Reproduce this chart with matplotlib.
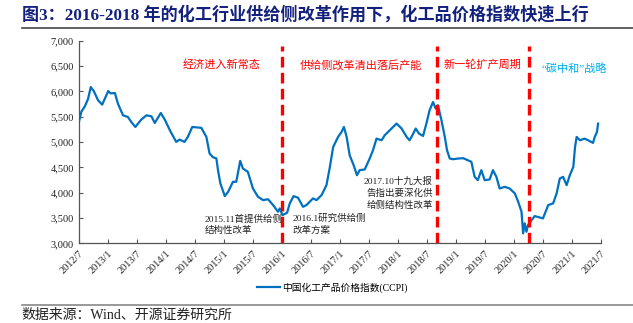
import pandas as pd
import matplotlib
matplotlib.use('Agg')
import matplotlib.pyplot as plt
from matplotlib.ticker import FuncFormatter

plt.rcParams['font.family'] = ['Liberation Serif', 'Noto Sans CJK SC']
plt.rcParams['axes.unicode_minus'] = False

# CCPI index
dates = [
    '2012-07-01', '2012-07-18', '2012-08-08', '2012-08-29', '2012-09-15', '2012-10-04',
    '2012-10-31', '2012-11-26', '2013-01-03', '2013-01-18', '2013-02-14', '2013-03-05',
    '2013-04-06', '2013-05-07', '2013-05-28', '2013-06-23', '2013-07-30', '2013-09-01',
    '2013-10-02', '2013-10-23', '2013-11-30', '2013-12-25', '2014-01-26', '2014-03-07',
    '2014-03-28', '2014-04-28', '2014-05-19', '2014-06-16', '2014-07-11', '2014-08-12',
    '2014-09-13', '2014-10-03', '2014-10-24', '2014-11-15', '2014-11-25', '2014-12-10',
    '2015-01-07', '2015-01-28', '2015-02-27', '2015-03-20', '2015-04-14', '2015-05-01',
    '2015-06-01', '2015-07-03', '2015-08-04', '2015-09-05', '2015-10-06', '2015-11-07',
    '2015-12-08', '2015-12-19', '2016-01-05', '2016-02-03', '2016-02-20', '2016-03-15',
    '2016-04-12', '2016-05-13', '2016-06-04', '2016-07-15', '2016-08-06', '2016-09-07',
    '2016-10-08', '2016-10-29', '2016-11-19', '2016-12-20', '2017-01-11', '2017-01-26',
    '2017-02-12', '2017-03-03', '2017-03-28', '2017-04-18', '2017-05-05', '2017-06-06',
    '2017-07-07', '2017-07-28', '2017-08-19', '2017-09-20', '2017-10-10', '2017-11-22',
    '2017-12-23', '2018-01-24', '2018-02-25', '2018-03-15', '2018-04-02', '2018-04-23',
    '2018-05-13', '2018-06-08', '2018-06-29', '2018-07-19', '2018-08-10', '2018-08-27',
    '2018-09-10', '2018-10-02', '2018-10-23', '2018-11-06', '2018-11-23', '2018-12-14',
    '2019-01-15', '2019-02-16', '2019-03-17', '2019-04-08', '2019-04-29', '2019-05-19',
    '2019-06-10', '2019-07-01', '2019-08-01', '2019-08-22', '2019-09-13', '2019-10-03',
    '2019-11-04', '2019-12-05', '2020-01-07', '2020-01-28', '2020-02-18', '2020-02-28',
    '2020-03-09', '2020-03-20', '2020-03-30', '2020-04-14', '2020-05-11', '2020-06-12',
    '2020-07-02', '2020-08-04', '2020-09-04', '2020-09-26', '2020-10-16', '2020-11-06',
    '2020-11-28', '2020-12-18', '2021-01-09', '2021-01-20', '2021-01-30', '2021-02-20',
    '2021-03-21', '2021-04-12', '2021-05-13', '2021-05-24', '2021-06-07', '2021-06-14',
]
ccpi = [
    5380, 5600, 5700, 5850, 6085, 6006,
    5823, 5738, 6006, 5960, 5967, 5758,
    5527, 5494, 5396, 5297, 5443, 5527,
    5507, 5376, 5573, 5443, 5232, 5002,
    5048, 5002, 5100, 5297, 5290, 5280,
    5100, 4773, 4700, 4675, 4444, 4182,
    3932, 4017, 4214, 4214, 4627, 4477,
    4411, 4083, 3918, 3853, 3870, 3755,
    3623, 3689, 3557, 3603, 3788, 3932,
    3900, 3721, 3755, 3886, 3853, 3951,
    4148, 4500, 4900, 5100, 5199, 5297,
    5100, 4740, 4542, 4345, 4444, 4458,
    4674, 4838, 5067, 5035, 5134, 5266,
    5364, 5266, 5100, 5035, 5134, 5266,
    5167, 5120, 5364, 5626, 5790, 5659,
    5725, 5429, 5100, 4838, 4674, 4660,
    4674, 4680, 4641, 4610, 4312, 4247,
    4444, 4247, 4260, 4444, 4312, 4083,
    4115, 4083, 3985, 3820, 3623, 3197,
    3394, 3229, 3360, 3426, 3538, 3510,
    3492, 3755, 3788, 3985, 4280, 4312,
    4148, 4345, 4509, 4903, 5100, 5035,
    5067, 5035, 4982, 5100, 5199, 5364,
]

# phase boundaries (red dashed lines)
breaks = ['2016-01-01', '2018-09-01', '2020-04-05']

phase_labels = ['经济进入新常态', '供给侧改革清出落后产能', '新一轮扩产周期']
carbon_label = '“碳中和”战略'
note_2015 = '2015.11首提供给侧\n结构性改革'
note_2016 = '2016.1研究供给侧\n改革方案'
note_2017 = '2017.10十九大报\n告指出要深化供\n给侧结构性改革'

title = '图3：2016-2018 年的化工行业供给侧改革作用下，化工品价格指数快速上行'
source = '数据来源：Wind、开源证券研究所'
series_name = '中国化工产品价格指数(CCPI)'

df = pd.DataFrame({'date': pd.to_datetime(dates), 'ccpi': ccpi})

fig = plt.figure(figsize=(6.33, 3.23), dpi=100)
ax = fig.add_axes([0.1243, 0.2467, 0.8248, 0.6273])

ax.plot(df['date'], df['ccpi'], color='#0070C0', lw=1.6, label=series_name)

for b in breaks:
    ax.axvline(pd.Timestamp(b), ymin=0, ymax=0.975, color='#FF0000', lw=2.4,
               dashes=(3.2, 1.6))

ax.set_xlim(pd.Timestamp('2012-07-01'), pd.Timestamp('2021-07-01'))
ax.set_ylim(3000, 7000)
ax.set_yticks(range(3000, 7001, 500))
ax.yaxis.set_major_formatter(FuncFormatter(lambda v, p: f'{int(v):,}'))

xt = pd.date_range('2012-07-01', '2021-07-01', freq='6MS')
ax.set_xticks(xt)
ax.set_xticklabels([f'{d.year}/{d.month}' for d in xt], rotation=45,
                   ha='right', va='top', rotation_mode='anchor')

ax.tick_params(axis='both', direction='in', length=3, width=0.8, color='#555555',
               labelsize=7.5, labelcolor='#222222')
ax.tick_params(axis='x', pad=4)
for s in ['top', 'right']:
    ax.spines[s].set_visible(False)
for s in ['left', 'bottom']:
    ax.spines[s].set_color('#555555')
    ax.spines[s].set_linewidth(0.9)

# phase titles
for txt, fx in zip(phase_labels, [0.273, 0.541, 0.774]):
    ax.text(fx, 0.88, txt, transform=ax.transAxes, color='#FF0000',
            fontsize=8, ha='center', va='center')
ax.text(0.950, 0.86, carbon_label, transform=ax.transAxes, color='#00B0F0',
        fontsize=8, ha='center', va='center')

# policy notes
ax.text(0.242, 0.093, note_2015, transform=ax.transAxes, fontsize=6.8,
        ha='left', va='center', linespacing=1.35, color='#222222')
ax.text(0.410, 0.093, note_2016, transform=ax.transAxes, fontsize=6.8,
        ha='left', va='center', linespacing=1.35, color='#222222')
ax.text(0.678, 0.248, note_2017, transform=ax.transAxes, fontsize=6.8,
        ha='right', va='center', multialignment='right', linespacing=1.35,
        color='#222222')

fig.legend(loc='center', bbox_to_anchor=(0.525, 0.109), frameon=False,
           fontsize=7, handlelength=2.3, handletextpad=0.2)

fig.text(0.034, 0.955, title, fontsize=12.3, fontweight='bold', color='#14217C',
         ha='left', va='center')
fig.add_artist(plt.Line2D([0.034, 1.0], [0.912, 0.912], color='#444444', lw=1.2))
fig.add_artist(plt.Line2D([0.034, 1.0], [0.056, 0.056], color='#888888', lw=1.2))
fig.text(0.034, 0.024, source, fontsize=10, ha='left', va='center',
         color='#222222')

fig.savefig('out.png', dpi=100)
